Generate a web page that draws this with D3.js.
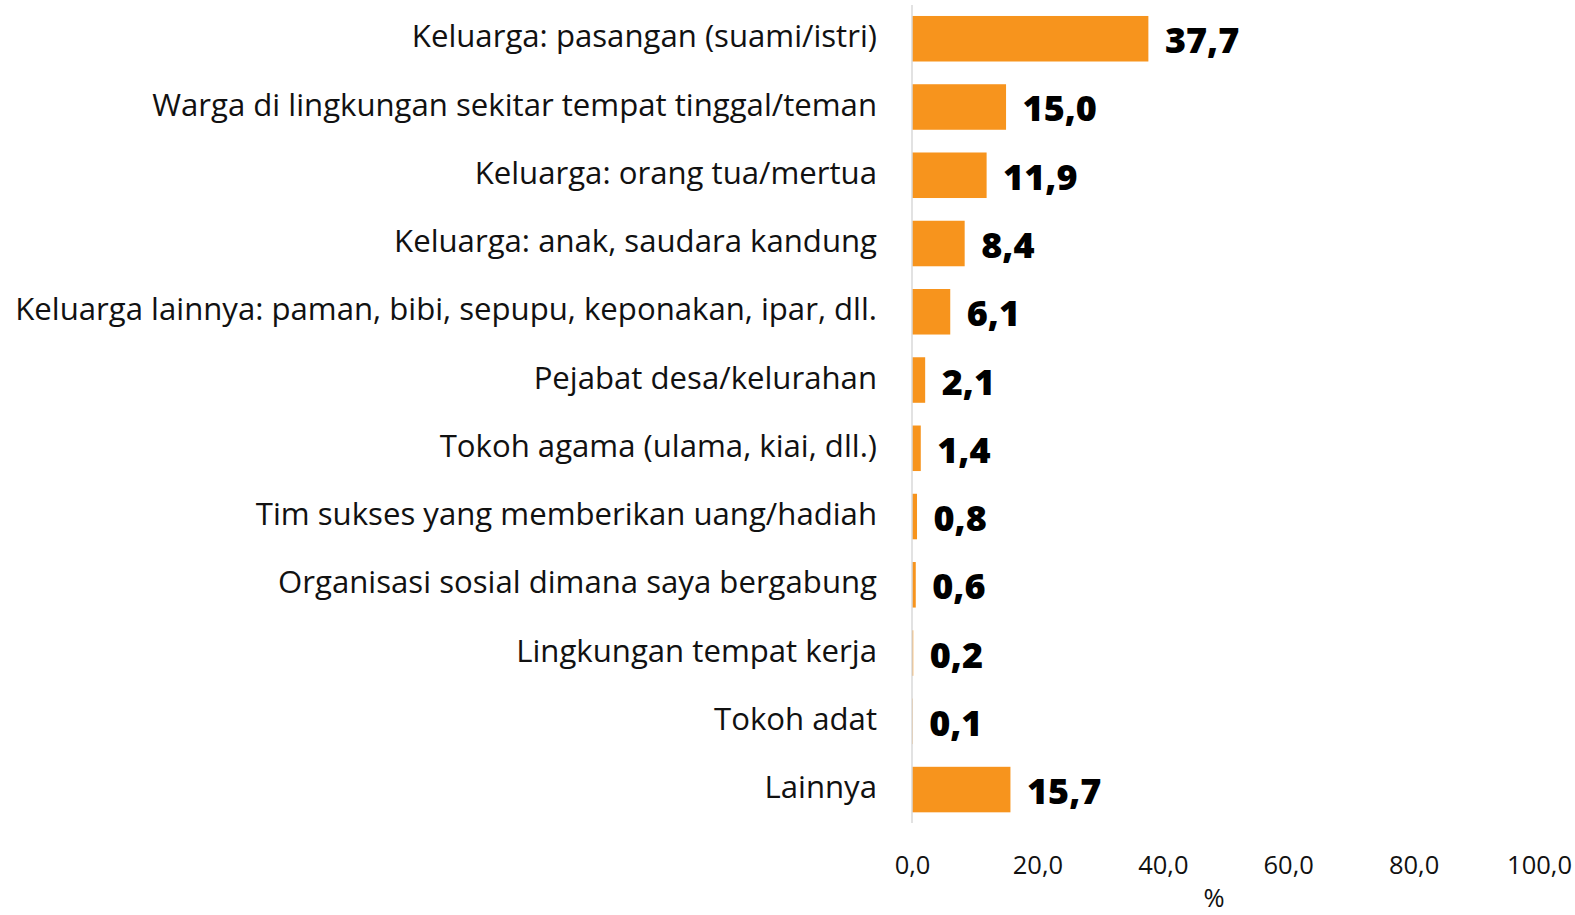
<!DOCTYPE html>
<html>
<head>
<meta charset="utf-8">
<script src="https://cdn.jsdelivr.net/npm/d3@7"></script>
<style>
  html, body { margin: 0; padding: 0; background: #ffffff; }
  svg { display: block; }
</style>
</head>
<body>
<svg id="chart" width="1575" height="915"></svg>
<script>
const categories = [
  "Keluarga: pasangan (suami/istri)",
  "Warga di lingkungan sekitar tempat tinggal/teman",
  "Keluarga: orang tua/mertua",
  "Keluarga: anak, saudara kandung",
  "Keluarga lainnya: paman, bibi, sepupu, keponakan, ipar, dll.",
  "Pejabat desa/kelurahan",
  "Tokoh agama (ulama, kiai, dll.)",
  "Tim sukses yang memberikan uang/hadiah",
  "Organisasi sosial dimana saya bergabung",
  "Lingkungan tempat kerja",
  "Tokoh adat",
  "Lainnya"
];
const values = [37.7, 15.0, 11.9, 8.4, 6.1, 2.1, 1.4, 0.8, 0.6, 0.2, 0.1, 15.7];
const xTicks = [0, 20, 40, 60, 80, 100];
const axisTitle = "%";

const fmt = v => v.toFixed(1).replace(".", ",");

const svg = d3.select("#chart");
const x = d3.scaleLinear().domain([0, 100]).range([912, 1539]);
const y = d3.scaleBand().domain(categories).range([4.6, 823.7]).paddingInner(0.333).paddingOuter(0.1667);

// category labels, fitted to the reference width
const labelFont = "'Open Sans', 'Noto Sans', sans-serif";
const probe = svg.append("text").attr("font-family", labelFont).attr("font-size", 100)
  .text(categories[4]);
const probeW = probe.node().getComputedTextLength();
probe.remove();
const labelSize = 100 * 862 / probeW;

svg.append("g").selectAll("text").data(categories).join("text")
  .attr("x", 877)
  .attr("y", d => y(d) + y.bandwidth() / 2 + labelSize * 0.357 - 2.6)
  .attr("text-anchor", "end")
  .attr("font-family", labelFont)
  .attr("font-size", labelSize)
  .attr("fill", "#111")
  .text(d => d);

// bars
svg.append("g").selectAll("rect").data(values).join("rect")
  .attr("x", x(0))
  .attr("y", (d, i) => y(categories[i]))
  .attr("width", d => x(d) - x(0))
  .attr("height", y.bandwidth())
  .attr("fill", "#F7941D");

// axis line
svg.append("line")
  .attr("x1", x(0)).attr("x2", x(0))
  .attr("y1", 5).attr("y2", 823)
  .attr("stroke", "#d9d9d9").attr("stroke-width", 1.5);

// value labels
svg.append("g").selectAll("text").data(values).join("text")
  .attr("x", d => x(d) + 16.5)
  .attr("y", (d, i) => y(categories[i]) + y.bandwidth() / 2 + 14.5)
  .attr("font-family", "'Open Sans', sans-serif")
  .attr("font-weight", 800)
  .attr("font-size", 36)
  .attr("fill", "#000")
  .text(d => fmt(d));

// x axis tick labels
const axis = d3.axisBottom(x).tickValues(xTicks).tickFormat(fmt).tickSize(0).tickPadding(0);
const gx = svg.append("g").attr("transform", "translate(0,856)").call(axis);
gx.select(".domain").remove();
gx.selectAll("text")
  .attr("dy", null)
  .attr("y", 18.3)
  .attr("font-family", "'Open Sans', sans-serif")
  .attr("font-size", 25.5)
  .attr("fill", "#111");

svg.append("text")
  .attr("x", 1214).attr("y", 907)
  .attr("text-anchor", "middle")
  .attr("font-family", "'Open Sans', sans-serif")
  .attr("font-size", 25.5)
  .attr("fill", "#111")
  .text(axisTitle);
</script>
</body>
</html>
